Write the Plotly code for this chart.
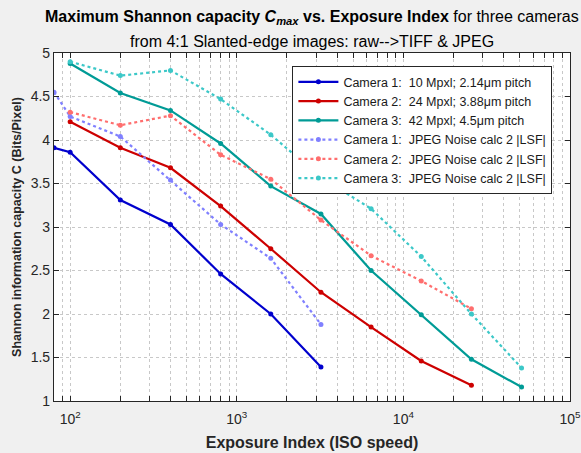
import plotly.graph_objects as go

iso_c1 = [80, 100, 200, 400, 800, 1600, 3200]
cap_c1 = [3.91, 3.86, 3.31, 3.03, 2.46, 2.00, 1.39]
cap_c1_jpeg = [4.55, 4.27, 4.04, 3.54, 3.03, 2.64, 1.88]

iso_c2 = [100, 200, 400, 800, 1600, 3200, 6400, 12800, 25600]
cap_c2 = [4.21, 3.91, 3.68, 3.24, 2.75, 2.25, 1.85, 1.46, 1.18]
cap_c2_jpeg = [4.32, 4.17, 4.28, 3.83, 3.55, 3.08, 2.67, 2.38, 2.06]

iso_c3 = [100, 200, 400, 800, 1600, 3200, 6400, 12800, 25600, 51200]
cap_c3 = [4.88, 4.54, 4.34, 3.96, 3.47, 3.15, 2.50, 1.99, 1.48, 1.16]
cap_c3_jpeg = [4.90, 4.74, 4.80, 4.47, 4.06, 3.57, 3.21, 2.66, 2.00, 1.38]

names = [
    "Camera 1:  10 Mpxl; 2.14μm pitch",
    "Camera 2:  24 Mpxl; 3.88μm pitch",
    "Camera 3:  42 Mpxl; 4.5μm pitch",
    "Camera 1:  JPEG Noise calc 2 |LSF|",
    "Camera 2:  JPEG Noise calc 2 |LSF|",
    "Camera 3:  JPEG Noise calc 2 |LSF|",
]

title_line1 = "<b>Maximum Shannon capacity <i>C</i><sub><i>max</i></sub> vs. Exposure Index</b> for three cameras"
title_line2 = "from 4:1 Slanted-edge images: raw-->TIFF &amp; JPEG"

x_tickvals = [100, 1000, 10000, 100000]
x_ticktext = ["10<sup>2</sup>", "10<sup>3</sup>", "10<sup>4</sup>", "10<sup>5</sup>"]
y_tickvals = [1, 1.5, 2, 2.5, 3, 3.5, 4, 4.5, 5]

series = [
    (iso_c1, cap_c1, names[0], "rgb(0,0,205)", "solid"),
    (iso_c2, cap_c2, names[1], "rgb(205,0,0)", "solid"),
    (iso_c3, cap_c3, names[2], "rgb(0,155,150)", "solid"),
    (iso_c1, cap_c1_jpeg, names[3], "rgb(128,128,255)", "dot"),
    (iso_c2, cap_c2_jpeg, names[4], "rgb(255,110,110)", "dot"),
    (iso_c3, cap_c3_jpeg, names[5], "rgb(60,200,200)", "dot"),
]

fig = go.Figure()
for xs, ys, nm, col, dash in series:
    fig.add_trace(go.Scatter(
        x=xs, y=ys, name=nm, mode="lines+markers",
        line=dict(color=col, width=2.2, dash=dash),
        marker=dict(color=col, size=5),
    ))

font_family = "Liberation Sans, Arial, sans-serif"
axis_common = dict(
    showline=True, linecolor="#262626", linewidth=1.2, mirror="allticks",
    ticks="inside", ticklen=5, tickcolor="#262626",
    showgrid=True, gridcolor="#c8c8c8", griddash="dot", gridwidth=1,
    zeroline=False, automargin=False, ticklabeloverflow="allow",
    tickfont=dict(size=14, color="#262626", family=font_family),
)

fig.update_layout(
    width=581, height=453,
    margin=dict(l=54, r=11, t=53, b=52),
    paper_bgcolor="#f0f0f0", plot_bgcolor="white",
    font=dict(family=font_family, color="#1a1a1a"),
    xaxis=dict(
        type="log", range=[1.903, 5],
        tickvals=x_tickvals, ticktext=x_ticktext, ticklabelstandoff=5,
        minor=dict(ticks="inside", ticklen=5, tickcolor="#262626", showgrid=True,
                   gridcolor="#c8c8c8", griddash="dot", dtick="D1"),
        title=dict(text="<b>Exposure Index (ISO speed)</b>", font=dict(size=16, color="#262626"), standoff=10),
        **axis_common,
    ),
    yaxis=dict(
        range=[1, 5], tickvals=y_tickvals,
        title=dict(text="<b>Shannon information capacity C (Bits/Pixel)</b>", font=dict(size=12.5, color="#262626"), standoff=6),
        **axis_common,
    ),
    legend=dict(
        x=0.462, y=0.962, xanchor="left", yanchor="top",
        bgcolor="white", bordercolor="#262626", borderwidth=1,
        font=dict(size=12.5, color="#1a1a1a"), tracegroupgap=0,
        itemwidth=40,
    ),
    annotations=[
        dict(text=title_line1, xref="paper", yref="paper", x=0.5, y=1, xanchor="center",
             yanchor="middle", yshift=36, showarrow=False, font=dict(size=16, color="#000000")),
        dict(text=title_line2, xref="paper", yref="paper", x=0.5, y=1, xanchor="center",
             yanchor="middle", yshift=12, showarrow=False, font=dict(size=16, color="#000000")),
    ],
)

fig.write_html("out.html")
